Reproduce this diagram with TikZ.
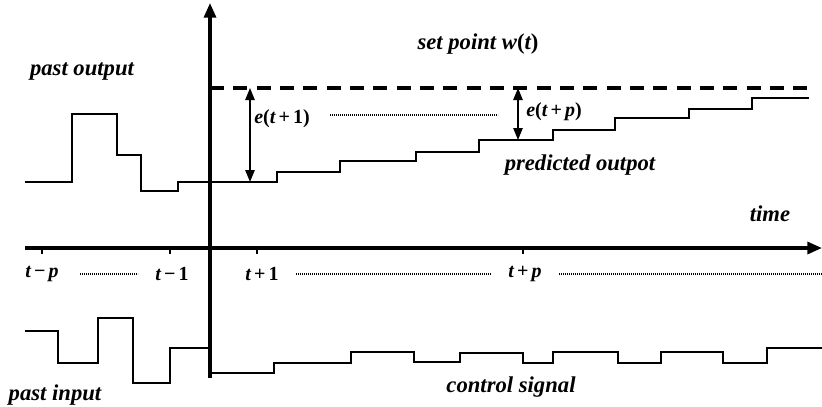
\documentclass[tikz,border=0pt]{standalone}
\usepackage{fontspec}
\setmainfont{Liberation Serif}
\usetikzlibrary{arrows.meta}
% an italic variable inside the bold upright formula labels
\newcommand{\mvar}[1]{{\itshape #1}}
\newcommand{\opsp}[1]{\hspace{0.16em}#1\hspace{0.16em}}
\tikzset{
  axis/.style={line width=2.4pt, -{Triangle[length=11pt,width=9pt]}},
  signal/.style={line width=1.4pt, line join=miter},
  setpoint/.style={line width=2.3pt, dash pattern=on 10.5pt off 7pt},
  tickmark/.style={line width=1.1pt},
  dotline/.style={line width=0.9pt, dash pattern=on 0.7pt off 0.8pt},
  errarrow/.style={line width=1.2pt, {Triangle[length=9pt,width=7pt]}-{Triangle[length=9pt,width=7pt]}},
  lbl/.style={font=\fontsize{17}{19}\selectfont\bfseries\itshape, inner sep=0pt},
  mlbl/.style={font=\fontsize{15}{17}\selectfont\bfseries, inner sep=0pt},
}
\begin{document}
\begin{tikzpicture}[x=0.75pt, y=-0.75pt]
  \useasboundingbox (0,0) rectangle (822,407);

  % axes
  \coordinate (vbot) at (210,378);
  \coordinate (vtop) at (210,3);
  \coordinate (hleft) at (25,248);
  \coordinate (hright) at (822,248);
  \draw[axis] (vbot) -- (vtop);
  \draw[axis] (hleft) -- (hright);

  % ticks on the time axis
  \foreach \tx in {42,170,257,523}
    \draw[tickmark] (\tx,248) -- (\tx,254);

  % time labels
  \node[mlbl] (tmp) at (42,274) {\mvar{t}\opsp{−}\mvar{p}};
  \node[mlbl] (tm1) at (172,274) {\mvar{t}\opsp{−}1};
  \node[mlbl] (tp1) at (262,274) {\mvar{t}\opsp{+}1};
  \node[mlbl] (tpp) at (525,274) {\mvar{t}\opsp{+}\mvar{p}};
  \draw[dotline] (80,274) -- (138,274);
  \draw[dotline] (296,274) -- (491,274);
  \draw[dotline] (559,274) -- (822,274);

  % set point
  \coordinate (spl) at (210,88);
  \coordinate (spr) at (809,88);
  \draw[setpoint] (spl) -- (spr);

  % past output
  \draw[signal] (25,182) -- (72,182) -- (72,114) -- (117,114) -- (117,155)
    -- (141,155) -- (141,191) -- (178,191) -- (178,182) -- (210,182);

  % predicted output
  \draw[signal] (210,182) -- (277,182) -- (277,172) -- (340,172) -- (340,161)
    -- (416,161) -- (416,152) -- (479,152) -- (479,140) -- (553,140)
    -- (553,130) -- (615,130) -- (615,118) -- (689,118) -- (689,109)
    -- (752,109) -- (752,98) -- (809,98);

  % errors
  \coordinate (e1top) at (250,88);
  \coordinate (e1bot) at (250,182);
  \draw[errarrow] (e1top) -- (e1bot);
  \node[mlbl, anchor=west] (e1) at (254,119) {\mvar{e}(\mvar{t}\opsp{+}1)};
  \draw[dotline] (330,115) -- (498,115);

  \coordinate (eptop) at (518,88);
  \coordinate (epbot) at (518,140);
  \draw[errarrow] (eptop) -- (epbot);
  \node[mlbl, anchor=west] (ep) at (526,112) {\mvar{e}(\mvar{t}\opsp{+}\mvar{p})};

  % past input
  \draw[signal] (25,331) -- (58,331) -- (58,363) -- (98,363) -- (98,318)
    -- (133,318) -- (133,383) -- (170,383) -- (170,348) -- (210,348);

  % control signal
  \draw[signal] (210,373) -- (274,373) -- (274,363) -- (351,363) -- (351,352)
    -- (414,352) -- (414,362) -- (460,362) -- (460,353) -- (523,353)
    -- (523,363) -- (553,363) -- (553,352) -- (618,352) -- (618,363)
    -- (661,363) -- (661,352) -- (723,352) -- (723,363) -- (767,363)
    -- (767,348) -- (822,348);

  % text labels
  \node[lbl] (setp) at (478,44) {set point \mvar{w}{\upshape(}\mvar{t}{\upshape)}};
  \node[lbl] (pout) at (82,72) {past output};
  \node[lbl] (pred) at (580,165) {predicted outpot};
  \node[lbl] (time) at (770,214) {time};
  \node[lbl] (ctrl) at (511,387) {control signal};
  \node[lbl] (pin) at (55,395) {past input};
\end{tikzpicture}
\end{document}
